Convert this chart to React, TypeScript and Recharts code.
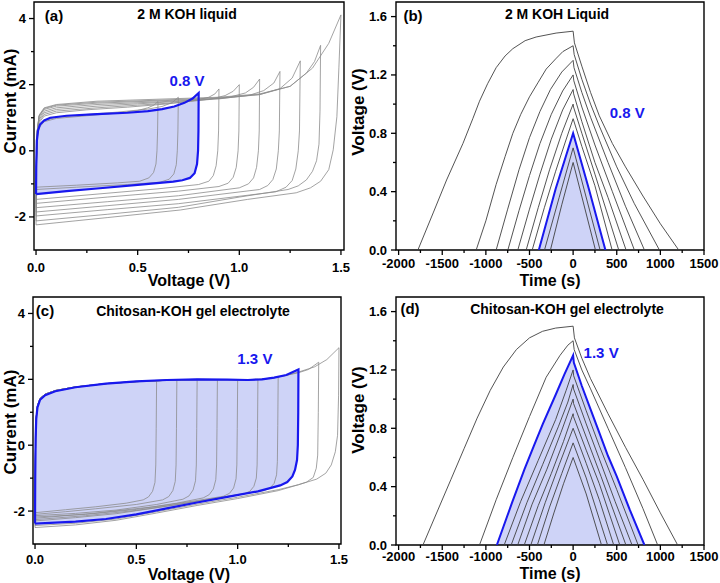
import React from 'react'
import { ComposedChart, Line, Area, XAxis, YAxis, ReferenceArea, ReferenceDot } from 'recharts'

type Pt = [number, number]

const BLUE = '#1818ee'
const FILL = '#ced3f7'
const CV_GRAY = '#8c8c8c'
const GCD_GRAY = '#404040'
const FONT = '"Liberation Sans", Arial, Helvetica, sans-serif'

// (a) CV loops in 2 M KOH liquid, [voltage V, current mA]
const liqCv06: Pt[] = [[0,-1.1],[0.002,-0.2],[0.006,0.4],[0.015,0.7],[0.04,0.88],[0.1,0.98],[0.25,1.06],[0.4,1.14],[0.5,1.22],[0.55,1.3],[0.58,1.38],[0.6,1.49],[0.598,0.6],[0.595,0],[0.59,-0.4],[0.578,-0.66],[0.555,-0.82],[0.51,-0.92],[0.4,-0.97],[0.2,-1.04],[0,-1.1]]
const liqCv07: Pt[] = [[0,-1.17],[0.002,-0.2],[0.006,0.45],[0.015,0.75],[0.04,0.92],[0.1,1.02],[0.25,1.1],[0.4,1.17],[0.55,1.26],[0.62,1.34],[0.67,1.46],[0.7,1.62],[0.698,0.6],[0.695,0],[0.69,-0.42],[0.678,-0.7],[0.655,-0.86],[0.61,-0.95],[0.45,-1.02],[0.2,-1.1],[0,-1.17]]
const liqCv08: Pt[] = [[0,-1.31],[0.001,-0.5],[0.004,0.3],[0.01,0.62],[0.02,0.8],[0.04,0.92],[0.07,1.0],[0.15,1.06],[0.3,1.11],[0.45,1.15],[0.55,1.2],[0.62,1.26],[0.68,1.34],[0.73,1.45],[0.77,1.58],[0.8,1.75],[0.799,0.6],[0.797,0],[0.792,-0.4],[0.78,-0.68],[0.757,-0.82],[0.72,-0.89],[0.675,-0.93],[0.5,-1.03],[0.3,-1.14],[0.15,-1.22],[0,-1.31]]
const liqCv09: Pt[] = [[0,-1.47],[0.002,-0.3],[0.006,0.5],[0.015,0.85],[0.04,1.05],[0.1,1.15],[0.25,1.24],[0.45,1.32],[0.65,1.42],[0.78,1.52],[0.85,1.62],[0.88,1.72],[0.9,1.87],[0.898,0.6],[0.894,0],[0.886,-0.45],[0.872,-0.75],[0.85,-0.92],[0.8,-1.02],[0.6,-1.15],[0.3,-1.31],[0,-1.47]]
const liqCv10: Pt[] = [[0,-1.59],[0.002,-0.3],[0.006,0.55],[0.015,0.9],[0.04,1.1],[0.1,1.2],[0.3,1.3],[0.5,1.38],[0.7,1.46],[0.85,1.55],[0.93,1.67],[0.97,1.8],[1,2],[0.998,0.6],[0.994,0],[0.985,-0.5],[0.97,-0.8],[0.945,-0.98],[0.9,-1.08],[0.7,-1.22],[0.35,-1.4],[0,-1.59]]
const liqCv11: Pt[] = [[0,-1.72],[0.002,-0.35],[0.006,0.6],[0.015,0.95],[0.04,1.15],[0.1,1.25],[0.3,1.35],[0.5,1.42],[0.8,1.53],[0.95,1.62],[1.03,1.75],[1.07,1.92],[1.1,2.17],[1.098,0.6],[1.094,0],[1.085,-0.5],[1.07,-0.82],[1.045,-1.0],[1,-1.12],[0.7,-1.36],[0.35,-1.54],[0,-1.72]]
const liqCv12: Pt[] = [[0,-1.85],[0.002,-0.4],[0.006,0.6],[0.015,1.0],[0.04,1.2],[0.1,1.3],[0.3,1.4],[0.6,1.48],[0.9,1.57],[1.05,1.68],[1.12,1.82],[1.17,2.05],[1.2,2.4],[1.197,0.6],[1.192,0],[1.182,-0.55],[1.165,-0.87],[1.14,-1.05],[1.1,-1.17],[0.7,-1.47],[0.35,-1.66],[0,-1.85]]
const liqCv13: Pt[] = [[0,-1.97],[0.002,-0.4],[0.006,0.6],[0.015,1.05],[0.04,1.25],[0.1,1.35],[0.3,1.44],[0.6,1.51],[0.9,1.58],[1.1,1.7],[1.2,1.88],[1.26,2.2],[1.3,2.72],[1.296,0.6],[1.29,0],[1.278,-0.55],[1.26,-0.9],[1.23,-1.1],[1.18,-1.24],[0.7,-1.6],[0.35,-1.78],[0,-1.97]]
const liqCv14: Pt[] = [[0,-2.12],[0.002,-0.45],[0.006,0.6],[0.015,1.05],[0.04,1.28],[0.1,1.38],[0.3,1.47],[0.6,1.53],[0.9,1.6],[1.1,1.7],[1.25,1.95],[1.33,2.35],[1.37,2.7],[1.4,3.19],[1.397,1.2],[1.392,0.2],[1.38,-0.3],[1.36,-0.62],[1.33,-0.88],[1.29,-1.06],[1.24,-1.17],[1.0,-1.4],[0.7,-1.71],[0.35,-1.92],[0,-2.12]]
const liqCv15: Pt[] = [[0,-2.24],[0.002,-0.45],[0.006,0.6],[0.015,1.08],[0.04,1.3],[0.1,1.4],[0.3,1.5],[0.6,1.56],[0.9,1.62],[1.1,1.72],[1.25,1.95],[1.36,2.5],[1.44,3.25],[1.5,4.11],[1.49,2.53],[1.48,1.03],[1.462,0.03],[1.44,-0.57],[1.4,-0.92],[1.35,-1.12],[1.28,-1.27],[1.04,-1.47],[0.71,-1.79],[0.35,-2.02],[0,-2.24]]
const liqCvGray = [liqCv06, liqCv07, liqCv09, liqCv10, liqCv11, liqCv12, liqCv13, liqCv14, liqCv15]

// (b) GCD in 2 M KOH liquid, [time s, voltage V]
const liqGcd06: Pt[] = [[-260,0],[-130,0.31],[0,0.6],[256,0]]
const liqGcd07: Pt[] = [[-328,0],[-160,0.36],[0,0.7],[309,0]]
const liqGcd08: Pt[] = [[-393,0],[-200,0.42],[0,0.8],[180,0.42],[370,0]]
const liqGcd09: Pt[] = [[-469,0],[-330,0.29],[-200,0.54],[-90,0.74],[0,0.9],[100,0.71],[250,0.44],[447,0]]
const liqGcd10: Pt[] = [[-538,0],[-400,0.29],[-270,0.55],[-130,0.8],[0,1.0],[5,0.98],[100,0.8],[250,0.52],[523,0]]
const liqGcd11: Pt[] = [[-634,0],[-500,0.28],[-380,0.52],[-250,0.76],[-120,0.96],[0,1.1],[6,1.07],[100,0.88],[250,0.6],[400,0.36],[607,0]]
const liqGcd12: Pt[] = [[-748,0],[-620,0.27],[-500,0.51],[-380,0.73],[-250,0.93],[-120,1.09],[0,1.2],[8,1.16],[100,0.98],[250,0.72],[450,0.4],[702,0]]
const liqGcd13: Pt[] = [[-882,0],[-750,0.28],[-620,0.55],[-500,0.77],[-380,0.95],[-260,1.1],[-130,1.22],[0,1.3],[10,1.25],[100,1.08],[200,0.91],[400,0.6],[600,0.3],[817,0]]
const liqGcd14: Pt[] = [[-1111,0],[-1000,0.2],[-882,0.45],[-780,0.64],[-691,0.8],[-600,0.93],[-500,1.05],[-400,1.15],[-309,1.24],[-200,1.31],[-118,1.36],[0,1.4],[12,1.34],[100,1.17],[200,1.0],[300,0.85],[500,0.57],[700,0.32],[989,0]]
const liqGcd15: Pt[] = [[-1779,0],[-1600,0.26],[-1450,0.48],[-1263,0.73],[-1150,0.9],[-1073,1.02],[-980,1.14],[-882,1.25],[-780,1.33],[-691,1.38],[-550,1.435],[-424,1.46],[-195,1.487],[0,1.5],[15,1.42],[100,1.26],[200,1.08],[300,0.92],[450,0.73],[600,0.57],[800,0.37],[1000,0.18],[1210,0]]
const liqGcdGray = [liqGcd06, liqGcd07, liqGcd09, liqGcd10, liqGcd11, liqGcd12, liqGcd13, liqGcd14, liqGcd15]

// (c) CV loops in chitosan-KOH gel
const gelCv06: Pt[] = [[0,-2.05],[0.001,-0.9],[0.003,0.25],[0.006,0.85],[0.012,1.2],[0.025,1.42],[0.05,1.55],[0.1,1.66],[0.2,1.77],[0.35,1.87],[0.5,1.93],[0.6,1.96],[0.598,0.5],[0.596,-0.6],[0.592,-1.13],[0.58,-1.4],[0.56,-1.57],[0.534,-1.66],[0.45,-1.76],[0.3,-1.87],[0.15,-1.96],[0,-2.05]]
const gelCv07: Pt[] = [[0,-2.1],[0.001,-0.9],[0.003,0.25],[0.006,0.85],[0.012,1.2],[0.025,1.42],[0.05,1.55],[0.1,1.66],[0.2,1.77],[0.35,1.87],[0.5,1.93],[0.65,1.97],[0.7,1.98],[0.698,0.5],[0.696,-0.6],[0.692,-1.1],[0.68,-1.38],[0.66,-1.56],[0.63,-1.66],[0.5,-1.8],[0.3,-1.93],[0.15,-2.02],[0,-2.1]]
const gelCv08: Pt[] = [[0,-2.14],[0.001,-0.9],[0.003,0.25],[0.006,0.85],[0.012,1.2],[0.025,1.42],[0.05,1.55],[0.1,1.66],[0.2,1.77],[0.35,1.87],[0.5,1.93],[0.65,1.97],[0.8,1.99],[0.798,0.5],[0.796,-0.6],[0.792,-1.08],[0.78,-1.36],[0.76,-1.54],[0.73,-1.64],[0.6,-1.8],[0.4,-1.97],[0.2,-2.07],[0,-2.14]]
const gelCv09: Pt[] = [[0,-2.18],[0.001,-0.9],[0.003,0.25],[0.006,0.85],[0.012,1.2],[0.025,1.42],[0.05,1.55],[0.1,1.66],[0.2,1.77],[0.35,1.87],[0.5,1.93],[0.65,1.97],[0.8,1.99],[0.9,1.99],[0.898,0.5],[0.896,-0.6],[0.892,-1.05],[0.88,-1.33],[0.86,-1.5],[0.83,-1.6],[0.7,-1.76],[0.5,-1.95],[0.25,-2.1],[0,-2.18]]
const gelCv10: Pt[] = [[0,-2.22],[0.001,-0.9],[0.003,0.25],[0.006,0.85],[0.012,1.2],[0.025,1.42],[0.05,1.55],[0.1,1.66],[0.2,1.77],[0.35,1.87],[0.5,1.93],[0.65,1.97],[0.8,1.99],[0.95,1.99],[1.0,1.99],[0.998,0.5],[0.996,-0.6],[0.992,-1.02],[0.98,-1.3],[0.96,-1.46],[0.93,-1.55],[0.8,-1.68],[0.6,-1.86],[0.3,-2.06],[0,-2.22]]
const gelCv11: Pt[] = [[0,-2.26],[0.001,-0.9],[0.003,0.25],[0.006,0.85],[0.012,1.2],[0.025,1.42],[0.05,1.55],[0.1,1.66],[0.2,1.77],[0.35,1.87],[0.5,1.93],[0.65,1.97],[0.8,1.99],[0.95,1.99],[1.05,1.99],[1.1,2.0],[1.098,0.5],[1.096,-0.6],[1.092,-1.0],[1.08,-1.25],[1.06,-1.4],[1.03,-1.48],[0.9,-1.6],[0.7,-1.8],[0.5,-1.98],[0.25,-2.14],[0,-2.26]]
const gelCv12: Pt[] = [[0,-2.3],[0.001,-0.9],[0.003,0.25],[0.006,0.85],[0.012,1.2],[0.025,1.42],[0.05,1.55],[0.1,1.66],[0.2,1.77],[0.35,1.87],[0.5,1.93],[0.65,1.97],[0.8,1.99],[0.95,1.99],[1.05,1.99],[1.12,2.01],[1.18,2.05],[1.2,2.07],[1.198,0.6],[1.196,-0.5],[1.192,-0.9],[1.18,-1.16],[1.16,-1.3],[1.13,-1.38],[1.0,-1.5],[0.8,-1.71],[0.6,-1.9],[0.4,-2.08],[0.2,-2.2],[0,-2.3]]
const gelCv13: Pt[] = [[0,-2.38],[0.001,-1.0],[0.003,0.2],[0.006,0.8],[0.012,1.15],[0.025,1.38],[0.05,1.52],[0.1,1.64],[0.2,1.76],[0.35,1.87],[0.5,1.94],[0.65,1.98],[0.8,2.0],[0.95,1.99],[1.05,1.98],[1.12,2.0],[1.18,2.05],[1.24,2.13],[1.3,2.3],[1.299,1.0],[1.297,0],[1.293,-0.45],[1.283,-0.75],[1.27,-0.95],[1.245,-1.12],[1.21,-1.22],[1.1,-1.4],[0.95,-1.57],[0.8,-1.74],[0.65,-1.92],[0.5,-2.1],[0.35,-2.24],[0.2,-2.32],[0,-2.38]]
const gelCv14: Pt[] = [[0,-2.44],[0.001,-1.0],[0.003,0.2],[0.006,0.8],[0.012,1.15],[0.025,1.38],[0.05,1.52],[0.1,1.64],[0.2,1.76],[0.35,1.87],[0.5,1.94],[0.65,1.98],[0.8,2.0],[0.95,1.99],[1.05,1.98],[1.12,2.0],[1.18,2.05],[1.24,2.12],[1.3,2.2],[1.35,2.3],[1.4,2.52],[1.398,1.0],[1.395,-0.3],[1.388,-0.7],[1.373,-0.98],[1.34,-1.12],[1.3,-1.2],[1.2,-1.35],[1.0,-1.58],[0.8,-1.79],[0.6,-2.02],[0.4,-2.24],[0.2,-2.37],[0,-2.44]]
const gelCv15: Pt[] = [[0,-2.5],[0.001,-1.0],[0.003,0.2],[0.006,0.8],[0.012,1.15],[0.025,1.38],[0.05,1.52],[0.1,1.64],[0.2,1.76],[0.35,1.87],[0.5,1.94],[0.65,1.98],[0.8,2.0],[0.95,1.99],[1.05,1.98],[1.12,2.0],[1.18,2.05],[1.24,2.12],[1.3,2.22],[1.38,2.38],[1.44,2.6],[1.5,2.96],[1.498,1.5],[1.493,0.3],[1.482,-0.2],[1.462,-0.6],[1.435,-0.85],[1.39,-1.03],[1.3,-1.2],[1.2,-1.38],[1.0,-1.62],[0.8,-1.83],[0.6,-2.06],[0.4,-2.28],[0.2,-2.42],[0,-2.5]]
const gelCvGray = [gelCv06, gelCv07, gelCv08, gelCv09, gelCv10, gelCv11, gelCv12, gelCv14, gelCv15]

// (d) GCD in chitosan-KOH gel
const gelGcd06: Pt[] = [[-335,0],[-220,0.22],[-110,0.42],[0,0.6],[150,0.35],[325,0]]
const gelGcd07: Pt[] = [[-410,0],[-270,0.26],[-130,0.49],[0,0.7],[150,0.46],[395,0]]
const gelGcd08: Pt[] = [[-485,0],[-320,0.29],[-160,0.55],[0,0.8],[150,0.56],[300,0.31],[465,0]]
const gelGcd09: Pt[] = [[-560,0],[-400,0.27],[-250,0.49],[-110,0.71],[0,0.9],[4,0.88],[150,0.65],[300,0.42],[535,0]]
const gelGcd10: Pt[] = [[-635,0],[-470,0.28],[-300,0.52],[-140,0.77],[0,1.0],[5,0.97],[150,0.74],[320,0.47],[605,0]]
const gelGcd11: Pt[] = [[-710,0],[-530,0.29],[-350,0.55],[-170,0.81],[-60,0.98],[0,1.1],[5,1.07],[150,0.83],[300,0.59],[480,0.3],[675,0]]
const gelGcd12: Pt[] = [[-790,0],[-600,0.3],[-400,0.58],[-200,0.86],[-80,1.06],[0,1.2],[6,1.16],[150,0.92],[300,0.68],[500,0.38],[745,0]]
const gelGcd13: Pt[] = [[-874,0],[-700,0.29],[-557,0.52],[-450,0.68],[-347,0.83],[-200,1.03],[-100,1.17],[0,1.3],[8,1.25],[100,1.09],[200,0.93],[300,0.77],[400,0.61],[500,0.47],[650,0.24],[817,0]]
const gelGcd14: Pt[] = [[-1073,0],[-882,0.31],[-691,0.6],[-500,0.88],[-309,1.15],[-150,1.3],[-60,1.37],[0,1.4],[12,1.34],[100,1.2],[200,1.07],[400,0.8],[600,0.53],[800,0.25],[969,0]]
const gelGcd15: Pt[] = [[-1721,0],[-1550,0.24],[-1400,0.45],[-1250,0.66],[-1100,0.87],[-950,1.06],[-800,1.22],[-650,1.34],[-500,1.42],[-350,1.465],[-200,1.487],[0,1.5],[15,1.42],[100,1.28],[200,1.14],[400,0.9],[600,0.67],[800,0.45],[1000,0.22],[1198,0]]
const gelGcdGray = [gelGcd06, gelGcd07, gelGcd08, gelGcd09, gelGcd10, gelGcd11, gelGcd12, gelGcd14, gelGcd15]

// axis ticks
const cvXMajor = [0, 0.5, 1, 1.5]
const cvXMinor = [0.25, 0.75, 1.25]
const cvYMajor = [-2, 0, 2, 4]
const cvYMinor = [-1, 1, 3]
const gcdXMajor = [-2000, -1500, -1000, -500, 0, 500, 1000, 1500]
const gcdXMinor = [-1750, -1250, -750, -250, 250, 750, 1250]
const gcdYMajor = [0, 0.4, 0.8, 1.2, 1.6]
const gcdYMinor = [0.2, 0.6, 1.0, 1.4]

const rows = (pts: Pt[]) => pts.map(([x, y]) => ({ x, y }))

function Tick(props: any) {
  const { x, y, payload, side, major, digits, gap, pad = 8 } = props
  const v = payload.value
  const isMajor = major.some((m: number) => Math.abs(m - v) < 1e-6)
  const len = isMajor ? 5 : 3
  const txt = v.toFixed(digits)
  const textProps = { fontSize: 13, fontWeight: 'bold', fontFamily: FONT, fill: '#000' }
  if (side === 'left') {
    return (
      <g>
        <line x1={x - len} x2={x} y1={y} y2={y} stroke="#000" strokeWidth={1.3} />
        {isMajor && <text x={x - pad} y={y + 4.5} textAnchor="end" {...textProps}>{txt}</text>}
      </g>
    )
  }
  return (
    <g>
      <line x1={x} x2={x} y1={y} y2={y + len} stroke="#000" strokeWidth={1.3} />
      {isMajor && <text x={x} y={y + gap} textAnchor="middle" {...textProps}>{txt}</text>}
    </g>
  )
}

type PanelProps = {
  left: number
  top: number
  height: number
  gaps: { l: number; r: number; t: number; b: number }
  xDomain: [number, number]
  yDomain: [number, number]
  xMajor: number[]
  xMinor: number[]
  yMajor: number[]
  yMinor: number[]
  xDigits: number
  yDigits: number
  labelGap: number
  yPad?: number
  children: React.ReactNode
}

function Panel(p: PanelProps) {
  return (
    <div style={{ position: 'absolute', left: p.left, top: p.top }}>
      <ComposedChart width={360} height={p.height} margin={{ top: p.gaps.t, right: p.gaps.r, bottom: 0, left: 0 }}>
        <XAxis
          type="number"
          dataKey="x"
          domain={p.xDomain}
          allowDataOverflow
          ticks={[...p.xMajor, ...p.xMinor]}
          interval={0}
          tickSize={0}
          tickMargin={0}
          tickLine={false}
          axisLine={false}
          height={p.gaps.b}
          tick={<Tick side="bottom" major={p.xMajor} digits={p.xDigits} gap={p.labelGap} />}
        />
        <YAxis
          type="number"
          domain={p.yDomain}
          allowDataOverflow
          ticks={[...p.yMajor, ...p.yMinor]}
          interval={0}
          tickSize={0}
          tickMargin={0}
          tickLine={false}
          axisLine={false}
          width={p.gaps.l}
          tick={<Tick side="left" major={p.yMajor} digits={p.yDigits} pad={p.yPad ?? 8} />}
        />
        {p.children}
        <ReferenceArea
          x1={p.xDomain[0]}
          x2={p.xDomain[1]}
          y1={p.yDomain[0]}
          y2={p.yDomain[1]}
          fill="none"
          fillOpacity={0}
          stroke="#000"
          strokeWidth={1.4}
          ifOverflow="visible"
        />
      </ComposedChart>
    </div>
  )
}

const noteLabel = (value: string) => ({
  value,
  position: 'center' as const,
  fill: BLUE,
  fontSize: 15,
  fontWeight: 'bold',
  fontFamily: FONT,
})

function Txt({ x, y, size, rotate, children }: { x: number; y: number; size: number; rotate?: boolean; children: React.ReactNode }) {
  return (
    <div
      style={{
        position: 'absolute',
        left: x,
        top: y,
        transform: `translate(-50%, -50%)${rotate ? ' rotate(-90deg)' : ''}`,
        whiteSpace: 'nowrap',
        fontFamily: FONT,
        fontWeight: 'bold',
        fontSize: size,
        lineHeight: 1,
        color: '#000',
        pointerEvents: 'none',
      }}
    >
      {children}
    </div>
  )
}

export default function App() {
  return (
    <div style={{ position: 'absolute', left: 0, top: 0, width: 720, height: 583, background: '#fff', overflow: 'hidden' }}>
      <Panel
        left={0} top={0} height={290}
        gaps={{ l: 34, r: 16, t: 2, b: 40 }}
        xDomain={[-0.01, 1.515]} yDomain={[-3, 4.5]}
        xMajor={cvXMajor} xMinor={cvXMinor} yMajor={cvYMajor} yMinor={cvYMinor}
        xDigits={1} yDigits={0} labelGap={22}
      >
        <Area data={rows(liqCv08)} dataKey="y" type="linear" stroke="none" fill={FILL} fillOpacity={1} isAnimationActive={false} />
        {liqCvGray.map((c, i) => (
          <Line key={`la${i}`} data={rows(c)} dataKey="y" type="linear" stroke={CV_GRAY} strokeWidth={0.8} dot={false} isAnimationActive={false} />
        ))}
        <Line data={rows(liqCv08)} dataKey="y" type="linear" stroke={BLUE} strokeWidth={2.2} dot={false} isAnimationActive={false} />
        <ReferenceDot x={0.743} y={2.12} r={0} fill="none" stroke="none" label={noteLabel('0.8 V')} />
      </Panel>

      <Panel
        left={360} top={0} height={290}
        gaps={{ l: 36, r: 16, t: 2, b: 40 }}
        xDomain={[-2030, 1500]} yDomain={[0, 1.7]}
        xMajor={gcdXMajor} xMinor={gcdXMinor} yMajor={gcdYMajor} yMinor={gcdYMinor}
        xDigits={0} yDigits={1} labelGap={18} yPad={9}
      >
        <Area data={rows(liqGcd08)} dataKey="y" type="linear" stroke="none" fill={FILL} fillOpacity={1} baseValue={0} isAnimationActive={false} />
        {liqGcdGray.map((c, i) => (
          <Line key={`lb${i}`} data={rows(c)} dataKey="y" type="linear" stroke={GCD_GRAY} strokeWidth={0.9} dot={false} isAnimationActive={false} />
        ))}
        <Line data={rows(liqGcd08)} dataKey="y" type="linear" stroke={BLUE} strokeWidth={2} dot={false} isAnimationActive={false} />
        <ReferenceDot x={620} y={0.94} r={0} fill="none" stroke="none" label={noteLabel('0.8 V')} />
      </Panel>

      <Panel
        left={0} top={290} height={293}
        gaps={{ l: 33, r: 19, t: 7, b: 39 }}
        xDomain={[-0.01, 1.51]} yDomain={[-3, 4.5]}
        xMajor={cvXMajor} xMinor={cvXMinor} yMajor={cvYMajor} yMinor={cvYMinor}
        xDigits={1} yDigits={0} labelGap={20}
      >
        <Area data={rows(gelCv13)} dataKey="y" type="linear" stroke="none" fill={FILL} fillOpacity={1} isAnimationActive={false} />
        {gelCvGray.map((c, i) => (
          <Line key={`gc${i}`} data={rows(c)} dataKey="y" type="linear" stroke={CV_GRAY} strokeWidth={0.8} dot={false} isAnimationActive={false} />
        ))}
        <Line data={rows(gelCv13)} dataKey="y" type="linear" stroke={BLUE} strokeWidth={2.2} dot={false} isAnimationActive={false} />
        <ReferenceDot x={1.085} y={2.62} r={0} fill="none" stroke="none" label={noteLabel('1.3 V')} />
      </Panel>

      <Panel
        left={360} top={290} height={293}
        gaps={{ l: 36, r: 16, t: 7, b: 38 }}
        xDomain={[-2030, 1500]} yDomain={[0, 1.7]}
        xMajor={gcdXMajor} xMinor={gcdXMinor} yMajor={gcdYMajor} yMinor={gcdYMinor}
        xDigits={0} yDigits={1} labelGap={16} yPad={9}
      >
        <Area data={rows(gelGcd13)} dataKey="y" type="linear" stroke="none" fill={FILL} fillOpacity={1} baseValue={0} isAnimationActive={false} />
        {gelGcdGray.map((c, i) => (
          <Line key={`gd${i}`} data={rows(c)} dataKey="y" type="linear" stroke={GCD_GRAY} strokeWidth={0.9} dot={false} isAnimationActive={false} />
        ))}
        <Line data={rows(gelGcd13)} dataKey="y" type="linear" stroke={BLUE} strokeWidth={2} dot={false} isAnimationActive={false} />
        <ReferenceDot x={321} y={1.316} r={0} fill="none" stroke="none" label={noteLabel('1.3 V')} />
      </Panel>

      <Txt x={54} y={15} size={15}>(a)</Txt>
      <Txt x={187} y={14} size={14}>2 M KOH liquid</Txt>
      <Txt x={10} y={101} size={17} rotate>Current (mA)</Txt>
      <Txt x={189} y={281} size={16}>Voltage (V)</Txt>

      <Txt x={413} y={15} size={15}>(b)</Txt>
      <Txt x={557} y={14} size={14}>2 M KOH Liquid</Txt>
      <Txt x={358} y={112} size={17} rotate>Voltage (V)</Txt>
      <Txt x={550} y={281} size={16}>Time (s)</Txt>

      <Txt x={45} y={310} size={15}>(c)</Txt>
      <Txt x={193} y={311} size={14}>Chitosan-KOH gel electrolyte</Txt>
      <Txt x={10} y={422} size={17} rotate>Current (mA)</Txt>
      <Txt x={189} y={575} size={16}>Voltage (V)</Txt>

      <Txt x={410} y={308} size={15}>(d)</Txt>
      <Txt x={567} y={309} size={14}>Chitosan-KOH gel electrolyte</Txt>
      <Txt x={358} y={410} size={17} rotate>Voltage (V)</Txt>
      <Txt x={550} y={574} size={16}>Time (s)</Txt>
    </div>
  )
}
